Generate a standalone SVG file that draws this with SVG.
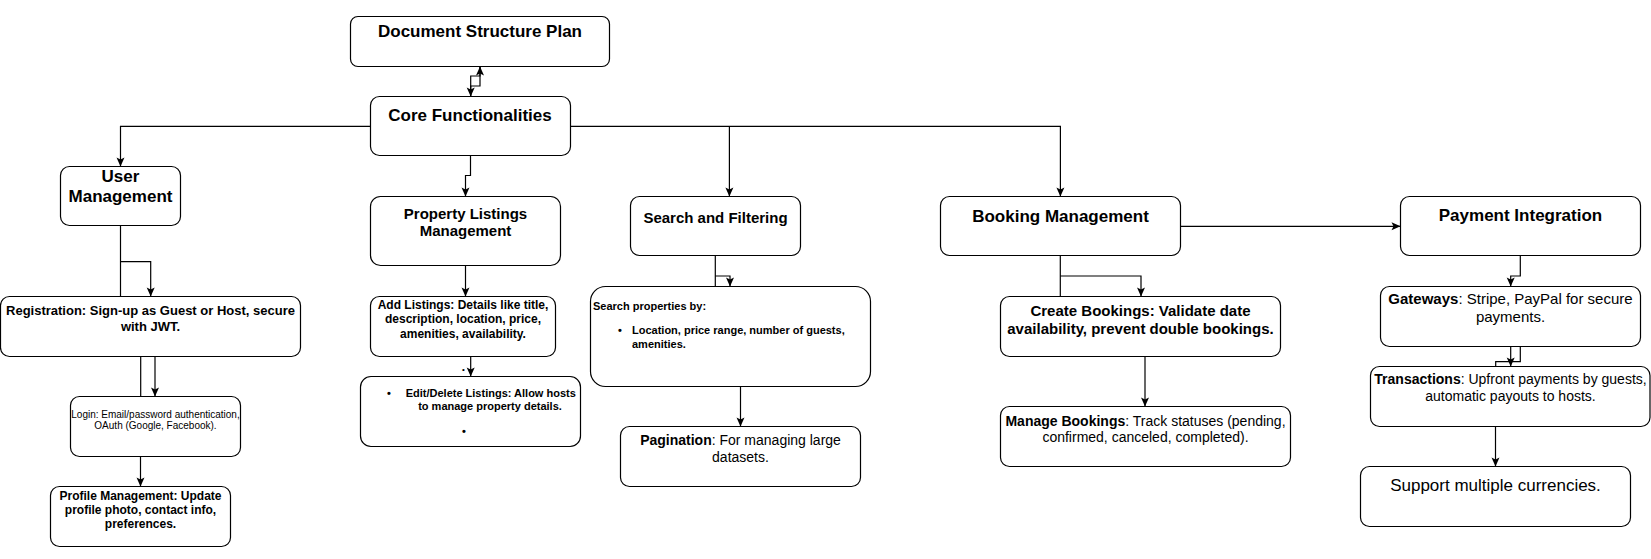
<svg xmlns="http://www.w3.org/2000/svg" width="1651" height="559" viewBox="0 0 1651 559">
<defs>
<marker id="arr" markerUnits="userSpaceOnUse" markerWidth="12" markerHeight="12" viewBox="0 0 12 12" refX="10.5" refY="6" orient="auto">
<path d="M1.5,2 L10.5,6 L1.5,10 L3.5,6 z" fill="#000"/>
</marker>
<style>
.box{fill:#fff;stroke:#000;stroke-width:1.2}
.ln{fill:none;stroke:#000;stroke-width:1.2}
.ar{fill:none;stroke:#000;stroke-width:1.2;marker-end:url(#arr)}
text{font-family:"Liberation Sans",Arial,sans-serif;fill:#000}
.c{text-anchor:middle}
.b{font-weight:bold}
</style>
</defs>
<rect width="1651" height="559" fill="#fff"/>
<g id="connectors">
<path class="ar" d="M480,66.5 V86 H470.7 V96.5"/>
<path class="ar" d="M470.7,96.5 V76 H480 V66.5"/>
<path class="ar" d="M370.5,126.3 H120.5 V166.5"/>
<path class="ar" d="M470.5,155.5 V175.5 H465.5 V196.5"/>
<path class="ar" d="M570.5,126.3 H1060.4 V196.5"/>
<path class="ar" d="M729.4,126.3 V196.5"/>
<path class="ar" d="M1180.5,226.3 H1400.5"/>
<path class="ln" d="M120.5,225.5 V296.5"/>
<path class="ar" d="M120.5,261.7 H150.7 V296.5"/>
<path class="ln" d="M140.7,356.5 V396.5"/>
<path class="ar" d="M155,356.5 V396.5"/>
<path class="ar" d="M140.5,456.5 V486.5"/>
<path class="ar" d="M465.5,265.5 V296.5"/>
<path class="ar" d="M470.7,356.5 V376.5"/>
<path class="ln" d="M715.3,255.5 V286.5"/>
<path class="ar" d="M715.3,276 H730 V286.5"/>
<path class="ar" d="M740.5,386.5 V426.5"/>
<path class="ln" d="M1060.3,255.5 V296.5"/>
<path class="ar" d="M1060.3,276 H1141 V296.5"/>
<path class="ar" d="M1145,356.5 V406.5"/>
<path class="ar" d="M1520.3,255.5 V276 H1510.7 V286.5"/>
<path class="ar" d="M1510.7,346.5 V366.5"/>
<path class="ln" d="M1520.3,346.5 V361.7 H1495.7 V366.5"/>
<path class="ar" d="M1495.5,426.5 V466.5"/>
<text x="463.5" y="371.5" class="c" font-size="8">•</text>
</g>
<g id="doc">
<rect class="box" x="350.5" y="16.5" width="259" height="50" rx="7.5"/>
<text x="480" y="36.8" class="c b" font-size="17">Document Structure Plan</text>
</g>
<g id="core">
<rect class="box" x="370.5" y="96.5" width="200" height="59" rx="9"/>
<text x="470" y="121" class="c b" font-size="17">Core Functionalities</text>
</g>
<g id="user-management">
<rect class="box" x="60.5" y="166.5" width="120" height="59" rx="9"/>
<text x="120.5" y="181.6" class="c b" font-size="17">User</text>
<text x="120.5" y="201.6" class="c b" font-size="17">Management</text>
</g>
<g id="property-listings">
<rect class="box" x="370.5" y="196.5" width="190" height="69" rx="10"/>
<text x="465.5" y="219.4" class="c b" font-size="15">Property Listings</text>
<text x="465.5" y="236.4" class="c b" font-size="15">Management</text>
</g>
<g id="search-filtering">
<rect class="box" x="630.5" y="196.5" width="170" height="59" rx="9"/>
<text x="715.5" y="223.4" class="c b" font-size="15">Search and Filtering</text>
</g>
<g id="booking-management">
<rect class="box" x="940.5" y="196.5" width="240" height="59" rx="9"/>
<text x="1060.5" y="221.6" class="c b" font-size="17">Booking Management</text>
</g>
<g id="payment-integration">
<rect class="box" x="1400.5" y="196.5" width="240" height="59" rx="9"/>
<text x="1520.5" y="221.2" class="c b" font-size="17">Payment Integration</text>
</g>
<g id="registration">
<rect class="box" x="0.5" y="296.5" width="300" height="60" rx="9"/>
<text x="150.5" y="315.4" class="c b" font-size="13">Registration: Sign-up as Guest or Host, secure</text>
<text x="150.5" y="331.2" class="c b" font-size="13">with JWT.</text>
</g>
<g id="login">
<rect class="box" x="70.5" y="396.5" width="170" height="60" rx="9"/>
<text x="155.5" y="417.6" class="c" font-size="10">Login: Email/password authentication,</text>
<text x="155.5" y="429.1" class="c" font-size="10">OAuth (Google, Facebook).</text>
</g>
<g id="profile-management">
<rect class="box" x="50.5" y="486.5" width="180" height="60" rx="9"/>
<text x="140.5" y="499.6" class="c b" font-size="12">Profile Management: Update</text>
<text x="140.5" y="513.6" class="c b" font-size="12">profile photo, contact info,</text>
<text x="140.5" y="528" class="c b" font-size="12">preferences.</text>
</g>
<g id="add-listings">
<rect class="box" x="370.5" y="296.5" width="185" height="60" rx="9"/>
<text x="463" y="308.6" class="c b" font-size="12">Add Listings: Details like title,</text>
<text x="463" y="323.3" class="c b" font-size="12">description, location, price,</text>
<text x="463" y="337.8" class="c b" font-size="12">amenities, availability.</text>
</g>
<g id="edit-delete-listings">
<rect class="box" x="360.5" y="376.5" width="220" height="70" rx="10.5"/>
<text x="389" y="396.7" class="c b" font-size="11">•</text>
<text x="405.7" y="396.7" class="b" font-size="11">Edit/Delete Listings: Allow hosts</text>
<text x="490" y="410" class="c b" font-size="11">to manage property details.</text>
<text x="464" y="435" class="c b" font-size="11">•</text>
</g>
<g id="search-properties">
<rect class="box" x="590.5" y="286.5" width="280" height="100" rx="15"/>
<text x="593" y="309.7" class="b" font-size="11">Search properties by:</text>
<text x="620" y="333.7" class="c b" font-size="11">•</text>
<text x="632" y="333.7" class="b" font-size="11">Location, price range, number of guests,</text>
<text x="632" y="347.7" class="b" font-size="11">amenities.</text>
</g>
<g id="pagination">
<rect class="box" x="620.5" y="426.5" width="240" height="60" rx="9"/>
<text x="740.5" y="445" class="c" font-size="14"><tspan class="b">Pagination</tspan>: For managing large</text>
<text x="740.5" y="461.7" class="c" font-size="14">datasets.</text>
</g>
<g id="create-bookings">
<rect class="box" x="1000.5" y="296.5" width="280" height="60" rx="9"/>
<text x="1140.5" y="315.7" class="c b" font-size="15">Create Bookings: Validate date</text>
<text x="1140.5" y="334.1" class="c b" font-size="15">availability, prevent double bookings.</text>
</g>
<g id="manage-bookings">
<rect class="box" x="1000.5" y="406.5" width="290" height="60" rx="9"/>
<text x="1145.5" y="425.7" class="c" font-size="14"><tspan class="b">Manage Bookings</tspan>: Track statuses (pending,</text>
<text x="1145.5" y="441.7" class="c" font-size="14">confirmed, canceled, completed).</text>
</g>
<g id="gateways">
<rect class="box" x="1380.5" y="286.5" width="260" height="60" rx="9"/>
<text x="1510.5" y="304.4" class="c" font-size="15"><tspan class="b">Gateways</tspan>: Stripe, PayPal for secure</text>
<text x="1510.5" y="322.4" class="c" font-size="15">payments.</text>
</g>
<g id="transactions">
<rect class="box" x="1370.5" y="366.5" width="279.5" height="60" rx="9"/>
<text x="1510.5" y="384" class="c" font-size="14"><tspan class="b">Transactions</tspan>: Upfront payments by guests,</text>
<text x="1510.5" y="401" class="c" font-size="14">automatic payouts to hosts.</text>
</g>
<g id="multiple-currencies">
<rect class="box" x="1360.5" y="466.5" width="270" height="60" rx="9"/>
<text x="1495.5" y="491.1" class="c" font-size="17">Support multiple currencies.</text>
</g>
</svg>
